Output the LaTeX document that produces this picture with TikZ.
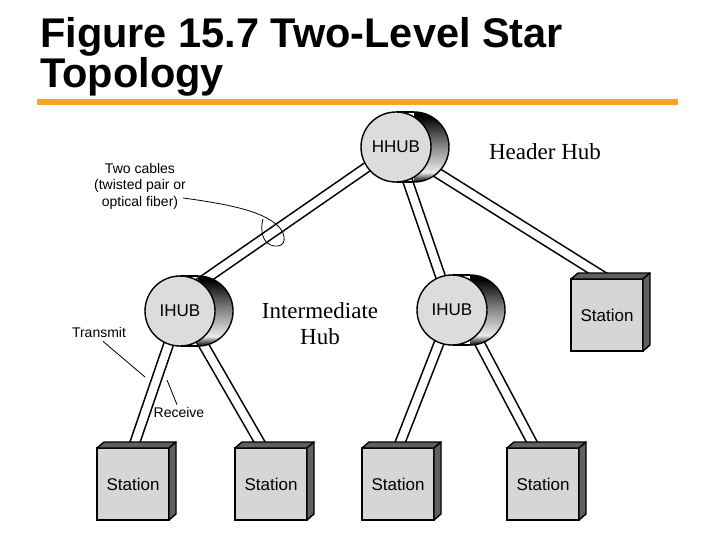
\documentclass[tikz,border=0pt]{standalone}
\usepackage{fontspec}
\setmainfont{Liberation Sans}
\newfontfamily\timesfont{Liberation Serif}
\usetikzlibrary{calc,backgrounds}
\definecolor{hubgray}{RGB}{220,220,220}
\definecolor{boxgray}{RGB}{214,214,214}
\definecolor{sidegray}{RGB}{96,96,96}
\definecolor{rulecolor}{RGB}{245,166,35}
\pgfdeclareverticalshading{drum}{100bp}{color(0bp)=(black); color(25bp)=(black);
  color(32bp)=(white!92!black); color(52bp)=(gray); color(72bp)=(black); color(100bp)=(black)}
\begin{document}
\begin{tikzpicture}[x=1pt, y=-1pt,
    hub/.style={circle, draw, line width=1.4pt, fill=hubgray, minimum size=70pt,
      inner sep=0pt, outer sep=0pt, font=\fontsize{17}{20}\selectfont},
    station/.style={rectangle, draw, line width=1.4pt, fill=boxgray, minimum size=72pt,
      inner sep=0pt, outer sep=0pt, font=\fontsize{17}{20}\selectfont},
    stside/.style={draw, line width=1.4pt, line join=round, fill=sidegray},
    cable/.style={double, double distance=8pt, line width=1.6pt},
    note/.style={font=\fontsize{14}{16.5}\selectfont, inner sep=0pt},
    serif/.style={font=\timesfont\fontsize{23}{26}\selectfont, inner sep=0pt}]
  \useasboundingbox (0,0) rectangle (720,540);
  % title
  \node[anchor=base west, align=left, inner sep=0pt, font=\bfseries\fontsize{41.5}{40}\selectfont]
    (title) at (40,88) {Figure 15.7 Two-Level Star\\Topology};
  \draw[rulecolor, line width=6pt] (37,102) -- (678,102);
  % hubs
  \foreach \n/\p/\t in {hhub/{396,147}/HHUB, ihubL/{180,311}/IHUB, ihubR/{452,310}/IHUB} {
    \shade[shading=drum] (\p) ++(18,0) circle (35) (\p) ++(0,-35) rectangle ++(18,70);
    \draw[line width=1.4pt] (\p) ++(18,0) circle (35);
    \draw[line width=1.4pt] (\p) ++(0,-35) -- ++(18,0) (\p) ++(0,35) -- ++(18,0);
    \node[hub] (\n) at (\p) {\t};
  }
  % stations
  \foreach \n/\p in {st1/{133,484}, st2/{271,484}, st3/{398,484}, st4/{543,484}, stR/{607,315}} {
    \node[station] (\n) at (\p) {Station};
    \path[stside] (\n.north west) -- ++(7,-6) -- ++(72,0) -- (\n.north east) -- cycle;
    \path[stside] (\n.north east) -- ++(7,-6) -- ++(0,72) -- (\n.south east) -- cycle;
  }
  % cables
  \begin{scope}[on background layer]
    \draw[cable] (hhub.center) -- ($(ihubL.center)+(8,-20)$);
    \draw[cable] (hhub.center) -- (ihubR.center);
    \draw[cable] (hhub.center) -- (stR.north);
    \draw[cable] (ihubL.center) -- (st1.north);
    \draw[cable] ($(ihubL.center)+(4,0)$) -- ($(st2.north)+(-8,0)$);
    \draw[cable] (ihubR.center) -- (st3.north);
    \draw[cable] ($(ihubR.center)+(10,0)$) -- ($(st4.north)+(-8,0)$);
  \end{scope}
  % labels
  \node[serif] (hhlabel) at (545,152) {Header Hub};
  \node[serif, align=center] (ihlabel) at (320,324) {Intermediate\\Hub};
  \node[note, align=center] (twocab) at (140,186) {Two cables\\(twisted pair or\\optical fiber)};
  \node[note] (tx) at (99,332) {Transmit};
  \node[note] (rx) at (179,412) {Receive};
  \coordinate (loop) at (263,219);
  \coordinate (txpt) at (145,377);
  \coordinate (rxpt) at (167,380);
  \draw[line width=.8pt] ($(twocab.east)+(-3,12)$) .. controls (235,205) and (262,212) .. (277,225)
    .. controls (288,235) and (286,248) .. (274,246) .. controls (262,244) and (260,230) .. (loop);
  \draw[line width=.8pt] ($(tx.south)+(4,4)$) -- (txpt);
  \draw[line width=.8pt] ($(rx.north)+(-2,-2)$) -- (rxpt);
\end{tikzpicture}
\end{document}
